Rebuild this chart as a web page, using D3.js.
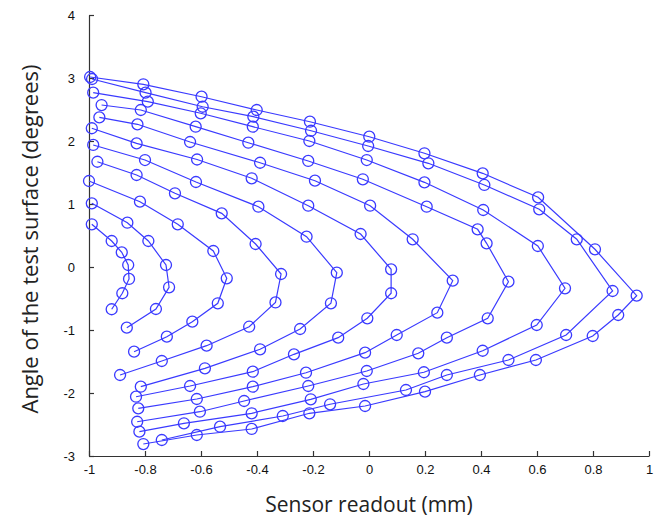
<!DOCTYPE html>
<html>
<head>
<meta charset="utf-8">
<script src="https://cdn.jsdelivr.net/npm/d3@7"></script>
<style>
  body { margin: 0; background: #fff; }
  svg { display: block; }
</style>
</head>
<body>
<div id="chart"></div>
<script>
const width = 656;
const height = 521;

// one sweep per curve, [sensor readout (mm), angle (deg)], inner to outer
const sweep1 = [[-0.990, 0.678], [-0.919, 0.413], [-0.883, 0.233], [-0.860, 0.032], [-0.857, -0.190], [-0.881, -0.417], [-0.919, -0.671]];
const sweep2 = [[-0.990, 1.011], [-0.863, 0.703], [-0.788, 0.413], [-0.725, 0.032], [-0.714, -0.322], [-0.761, -0.667], [-0.865, -0.963]];
const sweep3 = [[-1.000, 1.365], [-0.818, 1.037], [-0.683, 0.678], [-0.556, 0.254], [-0.508, -0.179], [-0.540, -0.576], [-0.631, -0.868], [-0.722, -1.106], [-0.839, -1.344]];
const sweep4 = [[-0.970, 1.671], [-0.830, 1.460], [-0.693, 1.170], [-0.526, 0.852], [-0.405, 0.365], [-0.314, -0.111], [-0.334, -0.563], [-0.428, -0.948], [-0.580, -1.249], [-0.740, -1.492], [-0.889, -1.714]];
const sweep5 = [[-0.985, 1.937], [-0.800, 1.698], [-0.618, 1.349], [-0.395, 0.957], [-0.223, 0.481], [-0.115, -0.090], [-0.136, -0.576], [-0.246, -0.984], [-0.389, -1.306], [-0.586, -1.608], [-0.815, -1.900]];
const sweep6 = [[-0.990, 2.202], [-0.830, 1.963], [-0.614, 1.706], [-0.419, 1.408], [-0.217, 0.973], [-0.030, 0.524], [0.079, -0.037], [0.079, -0.417], [-0.006, -0.814], [-0.110, -1.122], [-0.268, -1.386], [-0.415, -1.662], [-0.639, -1.889], [-0.832, -2.059]];
const sweep7 = [[-0.963, 2.376], [-0.827, 2.265], [-0.639, 1.984], [-0.389, 1.655], [-0.193, 1.370], [0.004, 0.973], [0.156, 0.440], [0.299, -0.217], [0.244, -0.725], [0.099, -1.079], [-0.014, -1.360], [-0.225, -1.678], [-0.415, -1.900], [-0.615, -2.095], [-0.824, -2.243]];
const sweep8 = [[-0.955, 2.571], [-0.815, 2.492], [-0.619, 2.227], [-0.431, 1.973], [-0.217, 1.683], [-0.022, 1.392], [0.206, 0.957], [0.388, 0.598], [0.420, 0.376], [0.498, -0.233], [0.424, -0.814], [0.278, -1.122], [0.176, -1.370], [-0.008, -1.651], [-0.217, -1.889], [-0.446, -2.127], [-0.604, -2.297], [-0.828, -2.456]];
const sweep9 = [[-0.985, 2.767], [-0.790, 2.624], [-0.601, 2.440], [-0.415, 2.227], [-0.213, 2.000], [-0.008, 1.698], [0.198, 1.344], [0.408, 0.905], [0.603, 0.333], [0.700, -0.338], [0.599, -0.921], [0.406, -1.329], [0.196, -1.671], [-0.020, -1.857], [-0.208, -2.100], [-0.419, -2.322], [-0.661, -2.481], [-0.820, -2.614]];
const sweep10 = [[-0.989, 2.984], [-0.798, 2.767], [-0.594, 2.544], [-0.413, 2.386], [-0.207, 2.163], [-0.003, 1.921], [0.212, 1.646], [0.412, 1.302], [0.608, 0.916], [0.742, 0.440], [0.870, -0.381], [0.704, -1.079], [0.498, -1.476], [0.278, -1.714], [0.132, -1.952], [-0.139, -2.179], [-0.308, -2.365], [-0.532, -2.535], [-0.740, -2.746]];
const sweep11 = [[-0.996, 3.016], [-0.806, 2.900], [-0.598, 2.703], [-0.401, 2.492], [-0.211, 2.306], [0.001, 2.068], [0.198, 1.805], [0.406, 1.487], [0.604, 1.106], [0.807, 0.281], [0.956, -0.455], [0.890, -0.762], [0.799, -1.095], [0.596, -1.476], [0.396, -1.714], [0.200, -1.979], [-0.014, -2.206], [-0.213, -2.322], [-0.419, -2.571], [-0.615, -2.667], [-0.806, -2.810]];

const sweeps = [sweep1, sweep2, sweep3, sweep4, sweep5, sweep6, sweep7, sweep8, sweep9, sweep10, sweep11];

const xTicks = [-1, -0.8, -0.6, -0.4, -0.2, 0, 0.2, 0.4, 0.6, 0.8, 1];
const yTicks = [-3, -2, -1, 0, 1, 2, 3, 4];

const blue = "#3a3aff";

const margin = {top: 15, right: 7, bottom: 65, left: 89};

const x = d3.scaleLinear().domain([-1, 1]).range([margin.left, width - margin.right]);
const y = d3.scaleLinear().domain([-3, 4]).range([height - margin.bottom, margin.top]);

const svg = d3.select("#chart").append("svg")
  .attr("width", width)
  .attr("height", height);

// plain hyphen labels like the original plot
const fmt = d => String(d);

// axes, ticks pointing into the plot
const xAxis = svg.append("g")
  .attr("transform", `translate(0,${y(-3)})`)
  .call(d3.axisBottom(x).tickValues(xTicks).tickSizeInner(-5).tickSizeOuter(0).tickPadding(9).tickFormat(fmt));

const yAxis = svg.append("g")
  .attr("transform", `translate(${x(-1)},0)`)
  .call(d3.axisLeft(y).tickValues(yTicks).tickSizeInner(-5).tickSizeOuter(0).tickPadding(14).tickFormat(fmt));

[xAxis, yAxis].forEach(g => {
  g.select(".domain").attr("stroke", "#333").attr("stroke-width", 1.2);
  g.selectAll(".tick line").attr("stroke", "#333").attr("stroke-width", 1.2);
  g.selectAll(".tick text")
    .attr("fill", "#111")
    .style("font-family", "'Liberation Sans', Arial, sans-serif")
    .style("font-size", "13px");
});

const line = d3.line().x(d => x(d[0])).y(d => y(d[1]));

const plot = svg.append("g");

plot.selectAll("path.sweep")
  .data(sweeps)
  .join("path")
  .attr("class", "sweep")
  .attr("d", line)
  .attr("fill", "none")
  .attr("stroke", blue)
  .attr("stroke-width", 1.2);

plot.selectAll("circle")
  .data(sweeps.flat())
  .join("circle")
  .attr("cx", d => x(d[0]))
  .attr("cy", d => y(d[1]))
  .attr("r", 5.5)
  .attr("fill", "none")
  .attr("stroke", blue)
  .attr("stroke-width", 1.3);

// axis titles
svg.append("text")
  .attr("x", x(0))
  .attr("y", 512)
  .attr("text-anchor", "middle")
  .style("font-family", "'Open Sans', 'Noto Sans', sans-serif")
  .style("font-size", "21px")
  .attr("fill", "#222")
  .text("Sensor readout (mm)");

svg.append("text")
  .attr("transform", `translate(38,239) rotate(-90)`)
  .attr("text-anchor", "middle")
  .style("font-family", "'Open Sans', 'Noto Sans', sans-serif")
  .style("font-size", "22px")
  .attr("fill", "#222")
  .text("Angle of the test surface (degrees)");
</script>
</body>
</html>
